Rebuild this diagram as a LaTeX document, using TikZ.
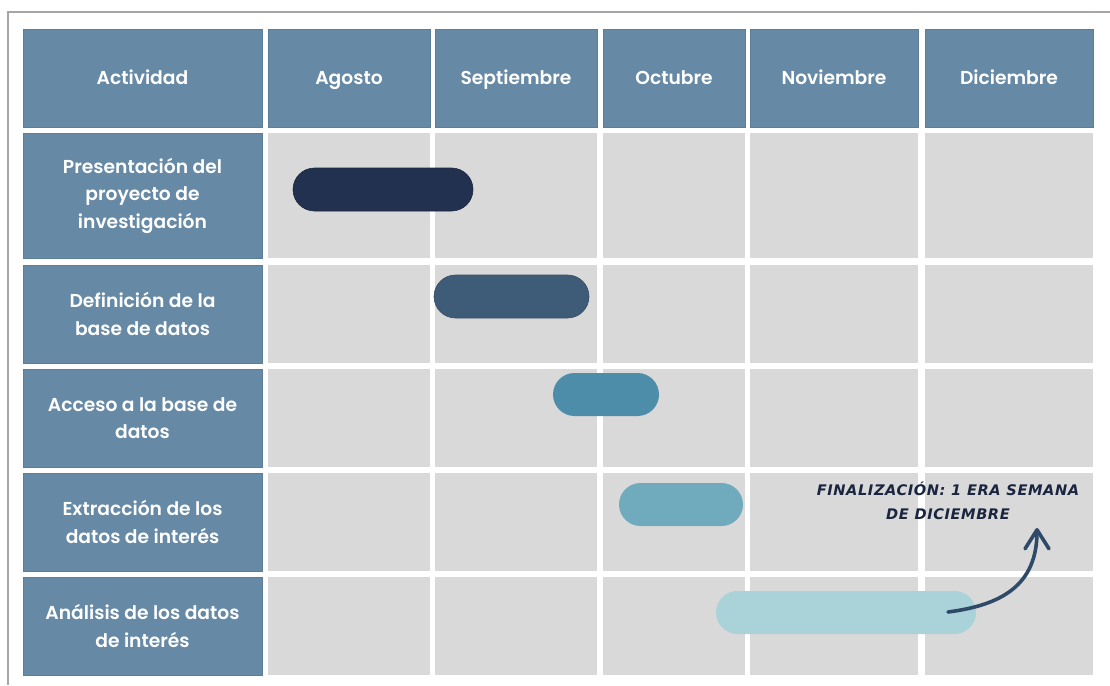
\documentclass[tikz,border=0pt]{standalone}
\usepackage{fontspec}
\setmainfont{Poppins}[BoldFont={Poppins SemiBold}]
\newfontfamily\notefont[LetterSpace=4]{DejaVu Sans}
\usetikzlibrary{arrows.meta}
\definecolor{hdrblue}{HTML}{6689A6}
\definecolor{hdredge}{HTML}{5B7E9B}
\definecolor{cellgray}{HTML}{D9D9D9}
\definecolor{framegray}{HTML}{A6A6A6}
\definecolor{barA}{HTML}{22314F}
\definecolor{barB}{HTML}{3E5C78}
\definecolor{barC}{HTML}{4D8DAA}
\definecolor{barD}{HTML}{6FAABD}
\definecolor{barE}{HTML}{A9D3D9}
\definecolor{notecol}{HTML}{1A2540}
\definecolor{arrowcol}{HTML}{2F4A68}
\tikzset{
  cellbox/.style={inner sep=0pt, outer sep=0pt, minimum height=98pt},
  hdrcell/.style={cellbox, fill=hdrblue, draw=hdredge, line width=0.6pt, text=white,
    font=\fontsize{18.7}{27.5}\selectfont\bfseries, align=center},
  toprow/.style={hdrcell, text height=13pt, text depth=0pt},
  graycell/.style={cellbox, fill=cellgray},
  barbox/.style={inner sep=0pt, outer sep=0pt, minimum height=43pt, rounded corners=21.5pt},
  notetext/.style={text=notecol, font=\notefont\fontsize{14.6}{24}\selectfont\bfseries\itshape, align=center, inner sep=0pt},
  finarrow/.style={draw=arrowcol, line width=3.6pt, line cap=round,
    -{Straight Barb[length=19pt,width=24pt,line cap=round,line join=round]}}
}
\begin{document}
\begin{tikzpicture}[x=1pt,y=-1pt]
\useasboundingbox (0,0) rectangle (1110,685);
\fill[white] (0,0) rectangle (1110,685);
% frame
\draw[framegray, line width=2pt] (1110,12) -- (8,12) -- (8,685);
% header row
\node[toprow, minimum width=239pt] (h0) at (142.5,78) {Actividad};
\node[toprow, minimum width=162pt] (h1) at (349,78) {Agosto};
\node[toprow, minimum width=162pt] (h2) at (516,78) {Septiembre};
\node[toprow, minimum width=142pt] (h3) at (674,78) {Octubre};
\node[toprow, minimum width=168pt] (h4) at (834,78) {Noviembre};
\node[toprow, minimum width=168pt] (h5) at (1009,78) {Diciembre};
% activity labels
\node[hdrcell, minimum width=239pt, minimum height=125pt] (a1) at (142.5,195.5) {Presentación del\\proyecto de\\investigación};
\node[hdrcell, minimum width=239pt] (a2) at (142.5,314) {Definición de la\\base de datos};
\node[hdrcell, minimum width=239pt] (a3) at (142.5,418) {Acceso a la base de\\datos};
\node[hdrcell, minimum width=239pt] (a4) at (142.5,522) {Extracción de los\\datos de interés};
\node[hdrcell, minimum width=239pt] (a5) at (142.5,626) {Análisis de los datos\\de interés};
% gray cells
\foreach \r/\cy/\h in {1/195.5/125,2/314/98,3/418/98,4/522/98,5/626/98}{
  \node[graycell, minimum width=162pt, minimum height=\h pt] (g\r-1) at (349,\cy) {};
  \node[graycell, minimum width=162pt, minimum height=\h pt] (g\r-2) at (516,\cy) {};
  \node[graycell, minimum width=142pt, minimum height=\h pt] (g\r-3) at (674,\cy) {};
  \node[graycell, minimum width=168pt, minimum height=\h pt] (g\r-4) at (834,\cy) {};
  \node[graycell, minimum width=168pt, minimum height=\h pt] (g\r-5) at (1009,\cy) {};
}
% bars
\node[barbox, fill=barA, draw=barA!80!black, line width=0.6pt, minimum width=180pt] (b1) at (383,189.5) {};
\node[barbox, fill=barB, draw=barB!85!black, line width=0.6pt, minimum width=155pt] (b2) at (511.5,296.5) {};
\node[barbox, fill=barC, minimum width=106pt] (b3) at (606,394.5) {};
\node[barbox, fill=barD, minimum width=124pt] (b4) at (681,504.5) {};
\node[barbox, fill=barE, minimum width=260pt] (b5) at (846,612.5) {};
% note
\node[notetext] (note) at (948,501) {FINALIZACIÓN: 1 ERA SEMANA\\DE DICIEMBRE};
\coordinate (arrS) at (948,612);
\coordinate (arrE) at (1037,528);
\draw[finarrow] (arrS) .. controls (1002,605) and (1037,585) .. (arrE);
\end{tikzpicture}
\end{document}
